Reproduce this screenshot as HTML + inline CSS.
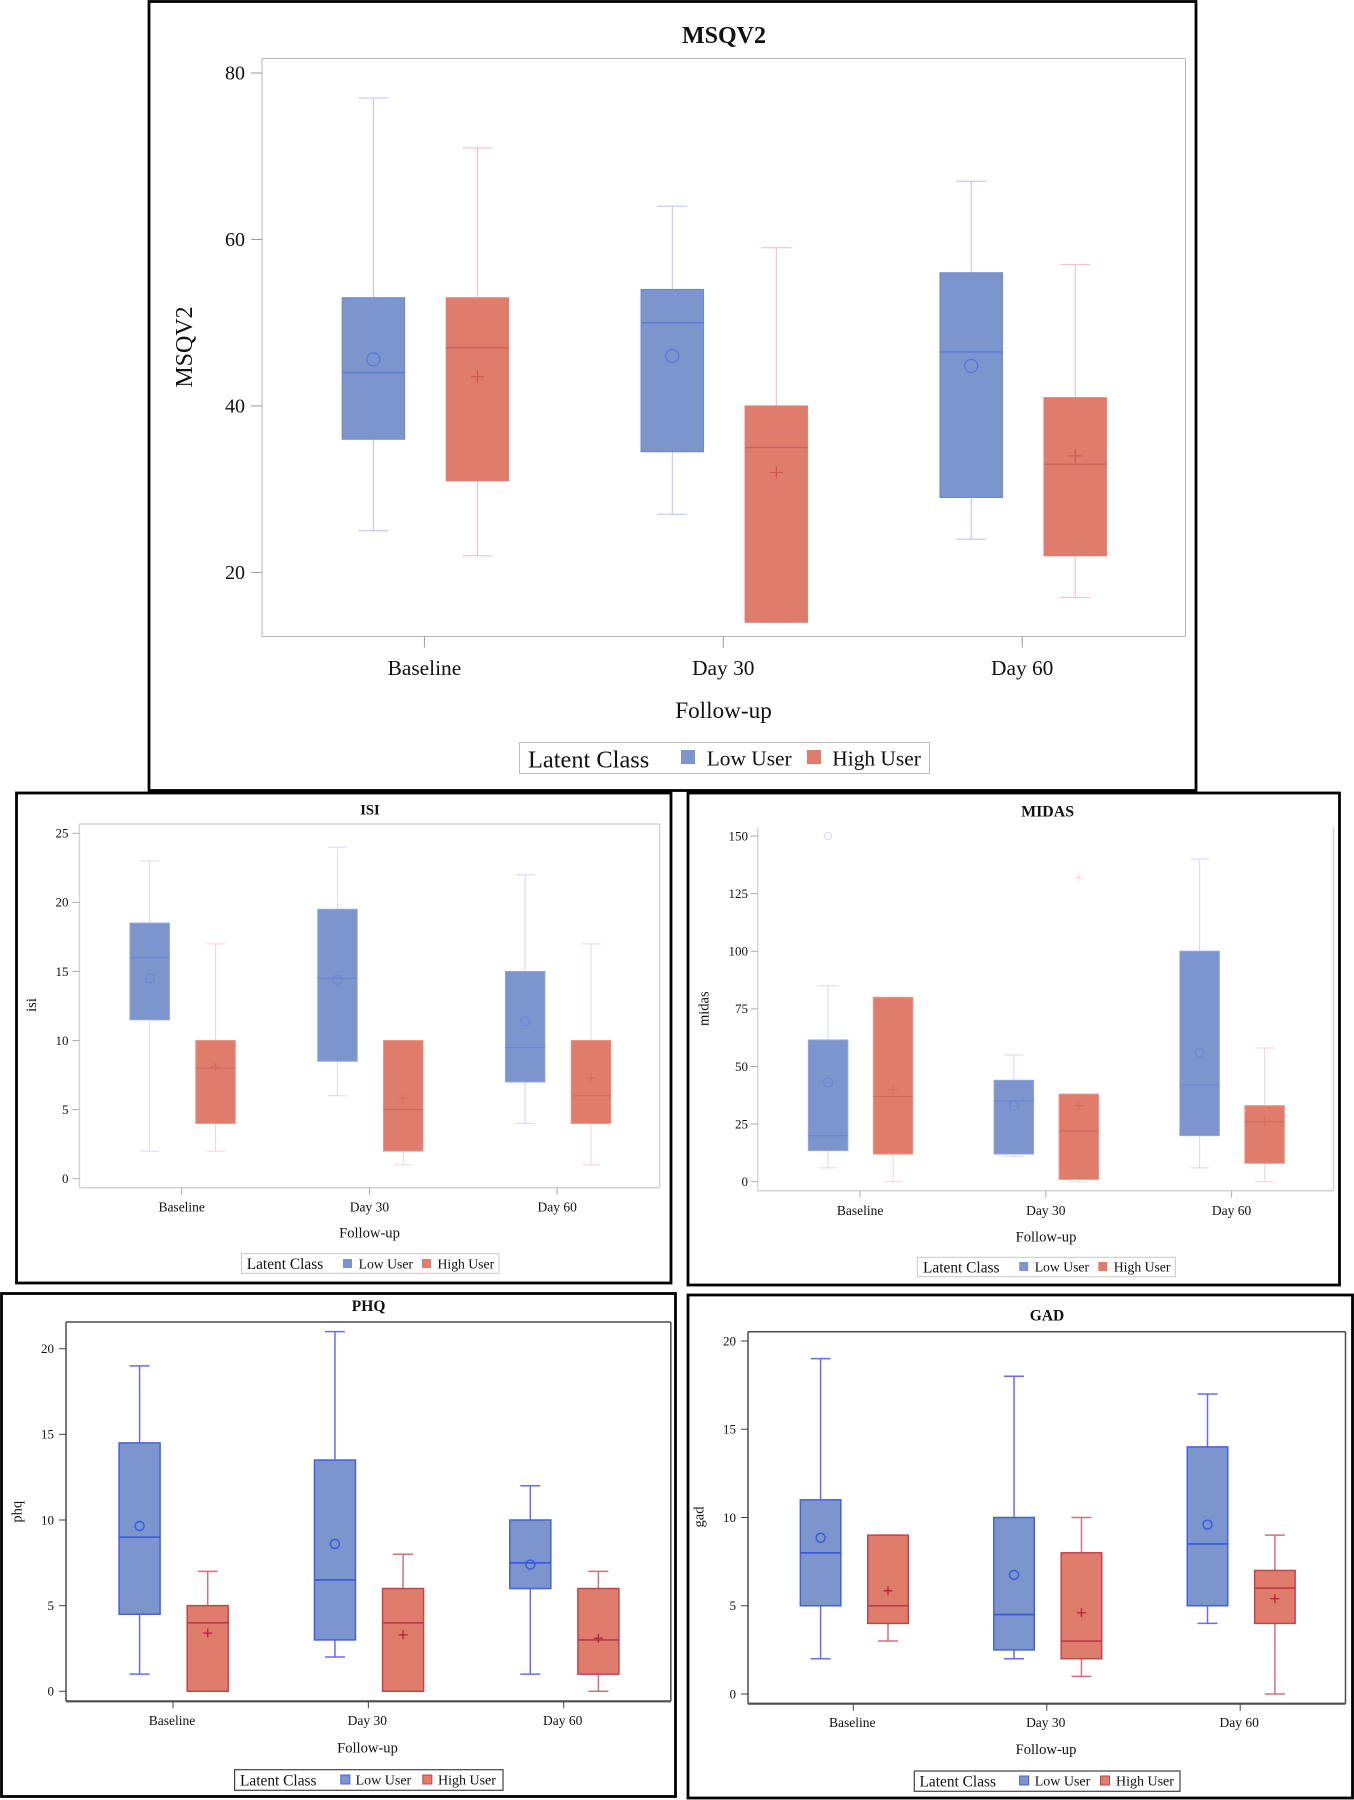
<!DOCTYPE html>
<html lang="en">
<head>
<meta charset="utf-8">
<title>Latent class box plots</title>
<style>
html,body{margin:0;padding:0;background:#fff;}
svg{display:block;font-family:"Liberation Serif",serif;}
text{fill:#111;}
</style>
</head>
<body>
<svg id="figure" xmlns="http://www.w3.org/2000/svg" width="1354" height="1800" viewBox="0 0 1354 1800"></svg>
<script>
// Shared categories and legend labels
const categories = ["Baseline", "Day 30", "Day 60"];
const seriesNames = ["Low User", "High User"];

// Each box row is [min, q1, median, q3, max], one row per category
const msqLowBoxes = [[25, 36, 44, 53, 77], [27, 34.5, 50, 54, 64], [24, 29, 46.5, 56, 67]];
const msqHighBoxes = [[22, 31, 47, 53, 71], [14, 14, 35, 40, 59], [17, 22, 33, 41, 57]];
const msqLowMeans = [45.6, 46, 44.8];
const msqHighMeans = [43.5, 32, 34];
const msqTicks = [20, 40, 60, 80];

const isiLowBoxes = [[2, 11.5, 16, 18.5, 23], [6, 8.5, 14.5, 19.5, 24], [4, 7, 9.5, 15, 22]];
const isiHighBoxes = [[2, 4, 8, 10, 17], [1, 2, 5, 10, 10], [1, 4, 6, 10, 17]];
const isiLowMeans = [14.5, 14.4, 11.4];
const isiHighMeans = [8.1, 5.8, 7.3];
const isiTicks = [0, 5, 10, 15, 20, 25];

const midasLowBoxes = [[6, 13.5, 20, 61.5, 85], [11, 12, 35, 44, 55], [6, 20, 42, 100, 140]];
const midasHighBoxes = [[0, 12, 37, 80, 80], [0, 1, 22, 38, 38], [0, 8, 26, 33, 58]];
const midasLowMeans = [43, 33, 56];
const midasHighMeans = [40, 33, 26];
const midasLowOutliers = [150, null, null];
const midasHighOutliers = [null, 132, null];
const midasTicks = [0, 25, 50, 75, 100, 125, 150];

const phqLowBoxes = [[1, 4.5, 9, 14.5, 19], [2, 3, 6.5, 13.5, 21], [1, 6, 7.5, 10, 12]];
const phqHighBoxes = [[0, 0, 4, 5, 7], [0, 0, 4, 6, 8], [0, 1, 3, 6, 7]];
const phqLowMeans = [9.65, 8.6, 7.4];
const phqHighMeans = [3.4, 3.3, 3.1];
const phqTicks = [0, 5, 10, 15, 20];

const gadLowBoxes = [[2, 5, 8, 11, 19], [2, 2.5, 4.5, 10, 18], [4, 5, 8.5, 14, 17]];
const gadHighBoxes = [[3, 4, 5, 9, 9], [1, 2, 3, 8, 10], [0, 4, 6, 7, 9]];
const gadLowMeans = [8.85, 6.75, 9.6];
const gadHighMeans = [5.85, 4.6, 5.4];
const gadTicks = [0, 5, 10, 15, 20];

const NS = "http://www.w3.org/2000/svg";
const figure = document.getElementById("figure");

function make(parent, tag, attrs, content) {
  const el = document.createElementNS(NS, tag);
  for (const k in attrs) el.setAttribute(k, attrs[k]);
  if (content !== undefined) el.textContent = content;
  parent.appendChild(el);
  return el;
}

const lightStyle = {
  axis: "#b4b4b4", axisW: 1, bottomW: 1, tick: "#999", lowFill: "#7c95cd", highFill: "#df7c6c",
  lowBox: "#6c86d6", highBox: "#e0807a", lowMed: "#5e7cd4", highMed: "#cc635b",
  lowWhisk: "#bcbcfb", highWhisk: "#f2b9c0", lowMean: "#4f6fdc", highMean: "#cb5050",
  lineW: 1, medW: 1.5, markW: 1
};
const paleStyle = {
  axis: "#d4d4d4", axisW: 1.4, bottomW: 1.6, tick: "#aaa", lowFill: "#7c95cd", highFill: "#df7c6c",
  lowBox: "#92a6e0", highBox: "#e8958a", lowMed: "#6a86d0", highMed: "#d2685f",
  lowWhisk: "#d6d6fb", highWhisk: "#f7d2d7", lowMean: "#6a84d6", highMean: "#d66a64",
  lineW: 1, medW: 1.2, markW: 1
};
const darkStyle = {
  axis: "#4c4c4c", axisW: 1.5, bottomW: 2.2, tick: "#444", lowFill: "#7c95cd", highFill: "#df7c6c",
  lowBox: "#4560dc", highBox: "#c4444e", lowMed: "#3a55dc", highMed: "#b93a48",
  lowWhisk: "#6a6af5", highWhisk: "#d2707e", lowMean: "#3a55dc", highMean: "#b8283c",
  lineW: 1.5, medW: 1.6, markW: 1.4
};

function drawLegend(g, L, st) {
  const lg = make(g, "g", {});
  
  
  const box = make(lg, "rect", {x: L.x, y: L.y, width: L.w, height: L.h, fill: "#fff", stroke: L.stroke, "stroke-width": L.sw});
  
  
  const head = make(lg, "text", {x: L.titleX, y: L.titleY, "font-size": L.titleSize}, "Latent Class");
  
  
  const s1 = make(lg, "rect", {x: L.sw1X, y: L.swY, width: L.swS, height: L.swH, fill: st.lowFill, stroke: L.swStroke ? st.lowBox : "none", "stroke-width": 1});
  
  
  const t1 = make(lg, "text", {x: L.t1X, y: L.textY, "font-size": L.textSize}, seriesNames[0]);
  
  
  const s2 = make(lg, "rect", {x: L.sw2X, y: L.swY, width: L.swS, height: L.swH, fill: st.highFill, stroke: L.swStroke ? st.highBox : "none", "stroke-width": 1});
  
  
  const t2 = make(lg, "text", {x: L.t2X, y: L.textY, "font-size": L.textSize}, seriesNames[1]);
  
  
}

function drawMarker(parent, circle, cx, cy, r, color, w, name) {
  if (circle) {
    const c = make(parent, "ellipse", {cx: cx, cy: cy, rx: r, ry: r, fill: "none", stroke: color, "stroke-width": w});
    
    
  } else {
    const p = make(parent, "path", {d: "M" + (cx - r) + " " + cy + "H" + (cx + r) + "M" + cx + " " + (cy - r) + "V" + (cy + r), fill: "none", stroke: color, "stroke-width": w});
    
    
  }
}

function drawSeries(g, P, xCenter, boxes, means, outliers, seriesKey, y) {
  const st = P.style;
  const low = seriesKey === "low";
  const whisk = low ? st.lowWhisk : st.highWhisk;
  const boxLine = low ? st.lowBox : st.highBox;
  const fill = low ? st.lowFill : st.highFill;
  const med = low ? st.lowMed : st.highMed;
  const markCol = low ? st.lowMean : st.highMean;
  boxes.forEach(function (b, i) {
    const cx = xCenter(i);
    const left = cx - P.boxW / 2;
    const g2 = make(g, "g", {});
    
    
    const upper = make(g2, "line", {x1: cx, x2: cx, y1: y(b[4]), y2: y(b[3]), stroke: whisk, "stroke-width": st.lineW});
    
    
    const lower = make(g2, "line", {x1: cx, x2: cx, y1: y(b[1]), y2: y(b[0]), stroke: whisk, "stroke-width": st.lineW});
    
    
    const capTop = make(g2, "line", {x1: cx - P.capW / 2, x2: cx + P.capW / 2, y1: y(b[4]), y2: y(b[4]), stroke: whisk, "stroke-width": st.lineW});
    
    
    const capBottom = make(g2, "line", {x1: cx - P.capW / 2, x2: cx + P.capW / 2, y1: y(b[0]), y2: y(b[0]), stroke: whisk, "stroke-width": st.lineW});
    
    
    const rect = make(g2, "rect", {x: left, y: y(b[3]), width: P.boxW, height: y(b[1]) - y(b[3]), fill: fill, stroke: boxLine, "stroke-width": st.lineW});
    
    
    const median = make(g2, "line", {x1: left, x2: left + P.boxW, y1: y(b[2]), y2: y(b[2]), stroke: med, "stroke-width": st.medW});
    
    
    drawMarker(g2, low, cx, y(means[i]), P.markR, markCol, st.markW, "mean-marker");
    if (outliers && outliers[i] !== null) {
      drawMarker(g2, low, cx, y(outliers[i]), P.markR * 0.8, whisk, 1, "outlier-marker");
    }
  });
}

function drawPanel(P) {
  const st = P.style;
  const g = make(figure, "g", {});
  
  

  const frame = make(g, "rect", {x: P.frame[0], y: P.frame[1], width: P.frame[2] - P.frame[0], height: P.frame[3] - P.frame[1], fill: "#fff", stroke: "#000", "stroke-width": 2.8});
  
  

  const title = make(g, "text", {x: P.titleX, y: P.titleY, "font-size": P.titleSize, "font-weight": "bold", "text-anchor": "middle"}, P.title);
  
  

  const left = P.plot[0];
  const top = P.plot[1];
  const right = P.plot[2];
  const bottom = P.plot[3];
  const edgeL = make(g, "line", {x1: left, x2: left, y1: top, y2: bottom, stroke: st.axis, "stroke-width": st.axisW});
  
  
  const edgeR = make(g, "line", {x1: right, x2: right, y1: top, y2: bottom, stroke: st.axis, "stroke-width": st.axisW});
  
  
  const edgeB = make(g, "line", {x1: left, x2: right, y1: bottom, y2: bottom, stroke: st.axis, "stroke-width": st.bottomW});
  
  
  if (!P.noTopEdge) {
    const edgeT = make(g, "line", {x1: left, x2: right, y1: top, y2: top, stroke: st.axis, "stroke-width": st.axisW});
    
    
  }

  // Axis functions: the pixel rows of the first and last tick calibrate the scale
  const t0 = P.ticks[0];
  const t1 = P.ticks[P.ticks.length - 1];
  const y = function (v) { return P.yFirst + (v - t0) * (P.yLast - P.yFirst) / (t1 - t0); };
  const xCat = function (i) { return P.catStart + i * P.catStep; };

  P.ticks.forEach(function (t) {
    const tick = make(g, "line", {x1: left - P.tickLen, x2: left, y1: y(t), y2: y(t), stroke: st.tick, "stroke-width": 1});
    
    
    const label = make(g, "text", {x: P.yLabelX, y: y(t) + P.tickSize * 0.33, "font-size": P.tickSize, "text-anchor": "end"}, String(t));
    
    
  });

  categories.forEach(function (c, i) {
    const tick = make(g, "line", {x1: xCat(i), x2: xCat(i), y1: bottom, y2: bottom + P.tickLen, stroke: st.tick, "stroke-width": 1});
    
    
    const label = make(g, "text", {x: xCat(i) + P.catLabelShift, y: P.catY, "font-size": P.catSize, "text-anchor": "middle"}, c);
    
    
  });

  const xTitle = make(g, "text", {x: P.xTitleX, y: P.xTitleY, "font-size": P.xTitleSize, "text-anchor": "middle"}, "Follow-up");
  
  

  const yTitle = make(g, "text", {transform: "translate(" + P.yTitleX + " " + P.yTitleY + ") rotate(-90)", "font-size": P.yTitleSize, "text-anchor": "middle"}, P.yName);
  
  

  drawSeries(g, P, function (i) { return xCat(i) + P.lowOffset; }, P.lowBoxes, P.lowMeans, P.lowOutliers, "low", y);
  drawSeries(g, P, function (i) { return xCat(i) + P.highOffset; }, P.highBoxes, P.highMeans, P.highOutliers, "high", y);

  drawLegend(g, P.legend, st);
}

drawPanel({
  key: "msqv2", title: "MSQV2", yName: "MSQV2", style: lightStyle,
  frame: [149, 1.5, 1196, 790.5], plot: [262, 58.5, 1185.5, 636.5],
  titleX: 724, titleY: 43, titleSize: 24,
  ticks: msqTicks, yFirst: 572.4, yLast: 73, tickLen: 11, tickSize: 20, yLabelX: 245,
  catStart: 424.4, catStep: 298.9, catLabelShift: 0, catY: 675, catSize: 21.4,
  xTitleX: 723.5, xTitleY: 718, xTitleSize: 23.2,
  yTitleX: 192, yTitleY: 347, yTitleSize: 24,
  lowOffset: -51, highOffset: 53, boxW: 62.5, capW: 30, markR: 6.5,
  lowBoxes: msqLowBoxes, highBoxes: msqHighBoxes, lowMeans: msqLowMeans, highMeans: msqHighMeans,
  legend: {x: 519.5, y: 742.5, w: 410, h: 31, stroke: "#bdbdbd", sw: 1, titleX: 528, titleY: 767.5, titleSize: 24.4,
    sw1X: 681, sw2X: 807, swY: 750, swS: 14, swH: 14, t1X: 706.7, t2X: 832.3, textY: 765.5, textSize: 21.4}
});

drawPanel({
  key: "isi", title: "ISI", yName: "isi", style: paleStyle,
  frame: [16.5, 793, 671, 1283], plot: [79.4, 824, 659.6, 1187.7],
  titleX: 370, titleY: 814.3, titleSize: 14.6,
  ticks: isiTicks, yFirst: 1178.7, yLast: 833.3, tickLen: 7, tickSize: 13, yLabelX: 68.5,
  catStart: 181.7, catStep: 187.75, catLabelShift: 0, catY: 1211.7, catSize: 13.5,
  xTitleX: 369.5, xTitleY: 1237.5, xTitleSize: 14.6,
  yTitleX: 36, yTitleY: 1005, yTitleSize: 14.5,
  lowOffset: -32, highOffset: 33.8, boxW: 39.5, capW: 19, markR: 4.5,
  lowBoxes: isiLowBoxes, highBoxes: isiHighBoxes, lowMeans: isiLowMeans, highMeans: isiHighMeans,
  legend: {x: 241.5, y: 1253.7, w: 257.5, h: 19.6, stroke: "#c8c8c8", sw: 1, titleX: 246.7, titleY: 1269, titleSize: 15.4,
    sw1X: 343, sw2X: 422, swY: 1259, swS: 9, swH: 9, t1X: 358.6, t2X: 437.5, textY: 1268.3, textSize: 13.7}
});

drawPanel({
  key: "midas", title: "MIDAS", yName: "midas", style: paleStyle, noTopEdge: true,
  frame: [688, 793, 1339.5, 1285], plot: [757.8, 827.3, 1333.5, 1190.7],
  titleX: 1047.6, titleY: 816.7, titleSize: 15.9,
  ticks: midasTicks, yFirst: 1181.7, yLast: 836, tickLen: 7, tickSize: 13, yLabelX: 748,
  catStart: 860.1, catStep: 185.75, catLabelShift: 0, catY: 1215, catSize: 13.5,
  xTitleX: 1046, xTitleY: 1241.5, xTitleSize: 14.6,
  yTitleX: 708.4, yTitleY: 1008.7, yTitleSize: 14.5,
  lowOffset: -32, highOffset: 33, boxW: 39.5, capW: 19, markR: 4.5,
  lowBoxes: midasLowBoxes, highBoxes: midasHighBoxes, lowMeans: midasLowMeans, highMeans: midasHighMeans,
  lowOutliers: midasLowOutliers, highOutliers: midasHighOutliers,
  legend: {x: 917.3, y: 1257.3, w: 258, h: 19.4, stroke: "#c8c8c8", sw: 1, titleX: 923, titleY: 1272.7, titleSize: 15.4,
    sw1X: 1019.2, sw2X: 1098.3, swY: 1262, swS: 9, swH: 9, t1X: 1034.7, t2X: 1113.8, textY: 1271.5, textSize: 13.7}
});

drawPanel({
  key: "phq", title: "PHQ", yName: "phq", style: darkStyle,
  frame: [1.5, 1293.5, 675.5, 1796.5], plot: [66, 1322, 670.8, 1701.3],
  titleX: 368.6, titleY: 1311, titleSize: 15.5,
  ticks: phqTicks, yFirst: 1691.3, yLast: 1348.7, tickLen: 7, tickSize: 13, yLabelX: 54,
  catStart: 173, catStep: 195.35, catLabelShift: -1, catY: 1725, catSize: 13.5,
  xTitleX: 367.5, xTitleY: 1752.5, xTitleSize: 14.6,
  yTitleX: 21.7, yTitleY: 1511.7, yTitleSize: 14.5,
  lowOffset: -33.4, highOffset: 34.7, boxW: 41, capW: 20, markR: 4.5,
  lowBoxes: phqLowBoxes, highBoxes: phqHighBoxes, lowMeans: phqLowMeans, highMeans: phqHighMeans,
  legend: {x: 234.6, y: 1769.7, w: 268.4, h: 20.6, stroke: "#444", sw: 1.2, titleX: 240, titleY: 1785.7, titleSize: 15.4, swStroke: true,
    sw1X: 340.8, sw2X: 422.8, swY: 1775, swS: 9, swH: 9, t1X: 355.6, t2X: 438, textY: 1784.5, textSize: 14}
});

drawPanel({
  key: "gad", title: "GAD", yName: "gad", style: darkStyle,
  frame: [688, 1295, 1352.5, 1798], plot: [748, 1331.7, 1345.5, 1703.7],
  titleX: 1047, titleY: 1320.7, titleSize: 15.5,
  ticks: gadTicks, yFirst: 1694, yLast: 1341, tickLen: 7, tickSize: 13, yLabelX: 736,
  catStart: 853.3, catStep: 193.45, catLabelShift: -1, catY: 1727, catSize: 13.5,
  xTitleX: 1046, xTitleY: 1754, xTitleSize: 14.6,
  yTitleX: 703.6, yTitleY: 1517, yTitleSize: 14.5,
  lowOffset: -32.7, highOffset: 34.7, boxW: 40.5, capW: 20, markR: 4.5,
  lowBoxes: gadLowBoxes, highBoxes: gadHighBoxes, lowMeans: gadLowMeans, highMeans: gadHighMeans,
  legend: {x: 914.3, y: 1771, w: 265.7, h: 20.3, stroke: "#444", sw: 1.2, titleX: 919.5, titleY: 1786.7, titleSize: 15.4, swStroke: true,
    sw1X: 1019.6, sw2X: 1100.5, swY: 1776, swS: 9, swH: 9, t1X: 1034.7, t2X: 1116, textY: 1785.5, textSize: 14}
});
</script>
</body>
</html>
